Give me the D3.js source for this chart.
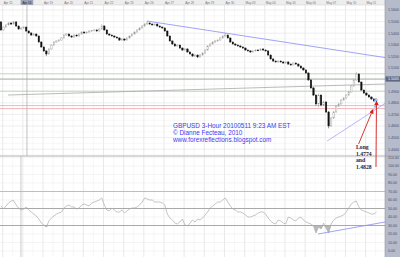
<!DOCTYPE html>
<html><head><meta charset="utf-8">
<script src="https://cdn.jsdelivr.net/npm/d3@7"></script>
<style>html,body{margin:0;padding:0;background:#fff;overflow:hidden}svg{display:block}</style>
</head><body><svg id="c" width="400" height="257"></svg>
<script>
// ---------------- data ----------------
const dates = ["Apr 15","Apr 16","Apr 19","Apr 20","Apr 21","Apr 22","Apr 23","Apr 26","Apr 27","Apr 28","Apr 29","Apr 30","May 03","May 04","May 05","May 06","May 07","May 10","May 11"];
const candlesPerDay = 8;      // 3-hour bars
const dayOffset = 0.67;       // first day boundary, in bars
const firstOpen = 1.5497;
const closes = [1.5428,1.5453,1.5471,1.5488,1.5479,1.5497,1.5462,1.5436,1.5445,1.5453,
 1.5419,1.5402,1.5384,1.5393,1.5376,1.5324,1.5281,1.5247,1.5221,1.5264,
 1.5298,1.5324,1.5333,1.5341,1.5359,1.5384,1.5393,1.5376,1.5367,1.5384,
 1.5376,1.5393,1.5410,1.5402,1.5410,1.5419,1.5421,1.5428,1.5419,1.5436,
 1.5462,1.5428,1.5393,1.5384,1.5376,1.5367,1.5359,1.5341,1.5350,1.5341,
 1.5359,1.5376,1.5393,1.5410,1.5428,1.5445,1.5462,1.5479,1.5488,1.5479,
 1.5471,1.5479,1.5462,1.5453,1.5445,1.5419,1.5376,1.5333,1.5307,1.5290,
 1.5298,1.5272,1.5255,1.5264,1.5238,1.5221,1.5203,1.5212,1.5195,1.5212,
 1.5229,1.5255,1.5290,1.5307,1.5324,1.5333,1.5341,1.5359,1.5376,1.5384,
 1.5359,1.5324,1.5307,1.5298,1.5290,1.5281,1.5272,1.5255,1.5247,1.5238,
 1.5247,1.5255,1.5252,1.5264,1.5255,1.5247,1.5212,1.5178,1.5160,1.5152,
 1.5160,1.5152,1.5143,1.5152,1.5134,1.5126,1.5143,1.5134,1.5117,1.5100,
 1.5083,1.5057,1.4997,1.4928,1.4867,1.4790,1.4867,1.4781,1.4807,1.4721,
 1.4600,1.4669,1.4721,1.4772,1.4790,1.4824,1.4841,1.4867,1.4893,1.4945,
 1.4997,1.5048,1.4979,1.4910,1.4884,1.4867,1.4850,1.4833,1.4816,1.4833];
const highs = [1.5505,1.5460,1.5478,1.5496,1.5493,1.5506,1.5502,1.5466,1.5452,1.5459,
 1.5457,1.5424,1.5407,1.5399,1.5397,1.5380,1.5330,1.5286,1.5252,1.5270,
 1.5305,1.5330,1.5340,1.5347,1.5366,1.5392,1.5400,1.5398,1.5381,1.5390,
 1.5389,1.5399,1.5417,1.5414,1.5416,1.5424,1.5427,1.5434,1.5432,1.5442,
 1.5478,1.5467,1.5432,1.5397,1.5388,1.5380,1.5371,1.5363,1.5356,1.5354,
 1.5364,1.5381,1.5398,1.5416,1.5433,1.5450,1.5468,1.5486,1.5505,1.5494,
 1.5484,1.5485,1.5483,1.5467,1.5458,1.5449,1.5423,1.5380,1.5338,1.5312,
 1.5304,1.5302,1.5277,1.5270,1.5268,1.5243,1.5226,1.5218,1.5216,1.5218,
 1.5235,1.5261,1.5296,1.5313,1.5330,1.5339,1.5347,1.5365,1.5382,1.5402,
 1.5389,1.5363,1.5329,1.5312,1.5303,1.5295,1.5286,1.5277,1.5260,1.5252,
 1.5253,1.5261,1.5262,1.5270,1.5269,1.5260,1.5251,1.5216,1.5183,1.5166,
 1.5166,1.5165,1.5157,1.5158,1.5156,1.5139,1.5149,1.5147,1.5139,1.5122,
 1.5105,1.5088,1.5062,1.5002,1.4935,1.4872,1.4880,1.4872,1.4818,1.4812,
 1.4728,1.4680,1.4730,1.4780,1.4800,1.4832,1.4850,1.4874,1.4900,1.4952,
 1.5005,1.5065,1.5054,1.4984,1.4915,1.4890,1.4872,1.4856,1.4838,1.4840];
const lows = [1.5420,1.5421,1.5448,1.5466,1.5472,1.5474,1.5455,1.5430,1.5431,1.5440,
 1.5413,1.5396,1.5378,1.5380,1.5370,1.5318,1.5275,1.5238,1.5203,1.5215,
 1.5258,1.5292,1.5318,1.5327,1.5336,1.5354,1.5378,1.5370,1.5360,1.5362,
 1.5370,1.5371,1.5388,1.5396,1.5398,1.5405,1.5414,1.5416,1.5413,1.5414,
 1.5431,1.5422,1.5387,1.5378,1.5370,1.5361,1.5352,1.5334,1.5336,1.5335,
 1.5337,1.5354,1.5371,1.5388,1.5405,1.5423,1.5440,1.5457,1.5474,1.5473,
 1.5465,1.5466,1.5457,1.5447,1.5439,1.5413,1.5370,1.5327,1.5300,1.5283,
 1.5285,1.5266,1.5249,1.5250,1.5232,1.5215,1.5197,1.5198,1.5186,1.5190,
 1.5207,1.5224,1.5250,1.5285,1.5302,1.5319,1.5328,1.5336,1.5354,1.5371,
 1.5353,1.5318,1.5301,1.5292,1.5284,1.5275,1.5266,1.5249,1.5241,1.5232,
 1.5233,1.5242,1.5246,1.5247,1.5249,1.5241,1.5206,1.5171,1.5154,1.5146,
 1.5147,1.5146,1.5137,1.5138,1.5128,1.5120,1.5121,1.5128,1.5111,1.5094,
 1.5077,1.5050,1.4990,1.4920,1.4858,1.4775,1.4760,1.4770,1.4772,1.4712,
 1.4580,1.4592,1.4660,1.4714,1.4765,1.4784,1.4818,1.4835,1.4860,1.4887,
 1.4938,1.4990,1.4972,1.4903,1.4877,1.4860,1.4843,1.4826,1.4808,1.4810];
const rsi = [52.9,49.4,52.9,56.5,58.8,59.4,54.1,50.6,48.2,49.4,
 51.8,48.2,45.9,43.5,41.2,37.6,32.9,30.6,28.2,35.3,
 38.8,41.2,43.5,44.7,45.9,50.6,52.9,54.1,51.8,51.8,
 49.4,50.6,54.1,55.3,54.1,52.9,56.5,57.6,58.8,60.0,
 62.4,54.1,48.2,47.1,50.6,48.2,45.9,45.9,48.2,44.7,
 47.1,49.4,50.6,50.6,51.8,54.1,57.6,62.4,61.2,60.0,
 60.0,57.6,57.6,57.6,56.5,54.1,43.5,38.8,36.5,32.9,
 31.8,34.1,37.6,30.6,29.4,32.9,36.5,34.1,37.6,36.5,
 38.8,42.4,45.9,50.6,52.9,55.3,57.6,57.6,60.0,62.4,
 57.6,52.9,49.4,48.2,45.9,45.9,44.7,42.4,40.0,40.0,
 41.2,42.4,44.7,45.9,45.9,43.5,38.8,35.3,32.9,31.8,
 36.5,35.3,32.9,31.8,40.0,38.8,36.5,35.3,38.8,40.0,
 36.5,34.1,32.9,31.8,29.4,21.2,28.2,25.9,32.9,27.1,
 21.2,31.8,36.5,38.8,40.0,41.2,42.4,45.9,50.6,55.3,
 57.6,58.8,51.8,48.2,47.1,45.9,44.7,43.5,43.5,45.9];
const priceTicks = [1.56,1.55,1.54,1.53,1.52,1.51,1.50,1.49,1.48,1.47,1.46,1.45,1.44];
const rsiTicks = [0,10,20,30,40,50,60,70,80,90,100,110];
const rsiLevels = [70,50,30];
const greenLevels = [1.5050,1.4900];
const redLevels = [1.4776,1.4750];
const crossIndex = 10.3, crossPrice = 1.5005, crossDate = "Apr 16";
const rsiCursorIndex = 7.9;
const greyTrend = [[2.8,1.4867],[152.4,1.4962]];
const upperTrend = [[57.9,1.5505],[152.4,1.5190]];
const lowerTrend = [[129.4,1.4470],[152.4,1.4795]];
const rsiTrend = [[125.8,20.0],[152.4,34.1]];
const entries = [1.4828,1.4774];
const arrows = [[[141.9,1.4445],[147.6,1.4742]],[[148.8,1.4247],[149.0,1.4815]]];
const titleLines = ["GBPUSD 3-Hour 20100511 9:23 AM EST","\u00a9 Dianne Fecteau, 2010","www.forexreflections.blogspot.com"];
const noteLines = ["Long","1.4774","and","1.4828"];

// ---------------- layout ----------------
const W=400,H=257,PR=385,MT=5,MB=156;
const svg = d3.select('#c');
const N = closes.length;
const x = d3.scaleLinear().domain([0,N-1]).range([1,376.5]);
const yP = d3.scaleLinear().domain([1.44,1.56]).range([149.2,10]);
const yR = d3.scaleLinear().domain([0,110]).range([251,157.5]);
const opens = closes.map((c,i)=> i===0 ? firstOpen : closes[i-1]);
const dayIdx = dates.map((d,k)=> dayOffset + candlesPerDay*k);

svg.append('rect').attr('width',W).attr('height',H).attr('fill','#fff');
const defs = svg.append('defs');
defs.append('clipPath').attr('id','cm').append('rect').attr('x',0).attr('y',MT).attr('width',PR).attr('height',MB-MT);
defs.append('clipPath').attr('id','cr').append('rect').attr('x',0).attr('y',MB).attr('width',PR).attr('height',H-MB);
defs.append('marker').attr('id','ah').attr('viewBox','0 0 10 10').attr('refX',9).attr('refY',5)
  .attr('markerWidth',5).attr('markerHeight',5).attr('orient','auto')
  .append('path').attr('d','M0,0 L10,5 L0,10 z').attr('fill','#d42020');

const gm = svg.append('g').attr('clip-path','url(#cm)');
const gr = svg.append('g').attr('clip-path','url(#cr)');

// minor grids
const minorX = d3.range(-1,dates.length+1).map(k=>dayOffset+candlesPerDay*k+candlesPerDay/2);
[gm,gr].forEach((g,j)=>{
  g.selectAll('.mx').data(minorX).join('line')
   .attr('x1',d=>x(d)).attr('x2',d=>x(d)).attr('y1',j?MB:MT).attr('y2',j?H:MB)
   .attr('stroke','#f1f1f1').attr('stroke-width',0.6);
  g.selectAll('.dx').data(dayIdx).join('line')
   .attr('x1',d=>x(d)).attr('x2',d=>x(d)).attr('y1',j?MB:MT).attr('y2',j?H:MB)
   .attr('stroke','#dadada').attr('stroke-width',0.6);
});
gm.selectAll('.hm').data(priceTicks.map(p=>p-0.005)).join('line')
  .attr('x1',0).attr('x2',PR).attr('y1',d=>yP(d)).attr('y2',d=>yP(d)).attr('stroke','#f2f2f2').attr('stroke-width',0.6);
gm.selectAll('.hp').data(priceTicks).join('line')
  .attr('x1',0).attr('x2',PR).attr('y1',d=>yP(d)).attr('y2',d=>yP(d)).attr('stroke','#e3e3e3').attr('stroke-width',0.6);
gr.selectAll('.hr').data(rsiTicks).join('line')
  .attr('x1',0).attr('x2',PR).attr('y1',d=>yR(d)).attr('y2',d=>yR(d)).attr('stroke','#ececec').attr('stroke-width',0.6);

// level lines
gm.selectAll('.gl').data(greenLevels).join('line')
  .attr('x1',0).attr('x2',PR).attr('y1',d=>yP(d)).attr('y2',d=>yP(d)).attr('stroke','#9fd49f').attr('stroke-width',0.7);
gm.selectAll('.rl').data(redLevels).join('line')
  .attr('x1',0).attr('x2',PR).attr('y1',d=>yP(d)).attr('y2',d=>yP(d)).attr('stroke','#ee9a9a').attr('stroke-width',0.7);
gm.append('line').attr('x1',0).attr('x2',PR).attr('y1',yP(crossPrice)).attr('y2',yP(crossPrice)).attr('stroke','#9a9a9a').attr('stroke-width',0.8);
gm.append('line').attr('x1',x(crossIndex)).attr('x2',x(crossIndex)).attr('y1',MT).attr('y2',MB).attr('stroke','#a8a8a8').attr('stroke-width',0.7);
gr.append('line').attr('x1',x(rsiCursorIndex)).attr('x2',x(rsiCursorIndex)).attr('y1',MB).attr('y2',H).attr('stroke','#b4b4b4').attr('stroke-width',0.7);

const segP = d3.line().x(d=>x(d[0])).y(d=>yP(d[1]));
const segR = d3.line().x(d=>x(d[0])).y(d=>yR(d[1]));
gm.append('path').attr('d',segP(greyTrend)).attr('fill','none').attr('stroke','#a8a8a8').attr('stroke-width',0.8);

// candles
const cg = gm.append('g');
const bw = 1.45;
cg.selectAll('.wk').data(closes).join('line')
  .attr('x1',(d,i)=>x(i)).attr('x2',(d,i)=>x(i))
  .attr('y1',(d,i)=>yP(highs[i])).attr('y2',(d,i)=>yP(lows[i]))
  .attr('stroke',(d,i)=> d>=opens[i] ? '#999' : '#222').attr('stroke-width',0.5);
cg.selectAll('.bd').data(closes).join('rect')
  .attr('x',(d,i)=>x(i)-bw/2).attr('width',bw)
  .attr('y',(d,i)=>yP(Math.max(d,opens[i])))
  .attr('height',(d,i)=>Math.max(0.8,Math.abs(yP(d)-yP(opens[i]))))
  .attr('fill',(d,i)=> d>=opens[i] ? '#fff' : '#111')
  .attr('stroke',(d,i)=> d>=opens[i] ? '#999' : '#111').attr('stroke-width',0.4);

// trendlines
gm.append('path').attr('d',segP(upperTrend)).attr('fill','none').attr('stroke','#8c8cf4').attr('stroke-width',0.8);
gm.append('path').attr('d',segP(lowerTrend)).attr('fill','none').attr('stroke','#9a9af4').attr('stroke-width',0.7);

// entry markers
gm.selectAll('.en').data(entries).join('path')
  .attr('d',d=>{const cx=x(148.6),cy=yP(d);return `M${cx-1.6},${cy+1.4} L${cx},${cy-1.4} L${cx+1.6},${cy+1.4} Z`;})
  .attr('fill','#8fc0ff').attr('stroke','#5f90e0').attr('stroke-width',0.3);

// RSI
gr.selectAll('.lv').data(rsiLevels).join('line')
  .attr('x1',0).attr('x2',PR).attr('y1',d=>yR(d)).attr('y2',d=>yR(d))
  .attr('stroke',d=>d===70?'#b8b8b8':'#a0a0a0').attr('stroke-width',0.9);
const area = d3.area().x((d,i)=>x(i)).y0(yR(30)).y1(d=>yR(Math.min(d,30)));
gr.append('path').attr('d',area(rsi)).attr('fill','#a8a8a8').attr('opacity',0.8);
gr.append('path').attr('d',d3.line().x((d,i)=>x(i)).y(d=>yR(d))(rsi))
  .attr('fill','none').attr('stroke','#acacac').attr('stroke-width',0.7);
gr.append('path').attr('d',segR(rsiTrend)).attr('fill','none').attr('stroke','#8c8cf4').attr('stroke-width',0.8);

// separator
svg.append('line').attr('x1',0).attr('x2',PR).attr('y1',MB).attr('y2',MB).attr('stroke','#b4b4b4').attr('stroke-width',1);

// top date strip
svg.append('rect').attr('x',0).attr('y',0).attr('width',W).attr('height',MT).attr('fill','#ededed');
svg.append('line').attr('x1',0).attr('x2',PR).attr('y1',MT).attr('y2',MT).attr('stroke','#cfcfcf').attr('stroke-width',0.5);
svg.selectAll('.dl').data(dates).join('text')
  .attr('x',(d,i)=>x(dayIdx[i])+1).attr('y',3.8).text(d=>d)
  .attr('font-family','Arial, Liberation Sans, sans-serif').attr('font-size',3).attr('fill','#777');
svg.append('rect').attr('x',x(crossIndex)-6.3).attr('y',0).attr('width',12.6).attr('height',MT).attr('fill','#9ba3b9');
svg.append('text').attr('x',x(crossIndex)).attr('y',3.8).attr('text-anchor','middle').text(crossDate)
  .attr('font-family','Arial, Liberation Sans, sans-serif').attr('font-size',3).attr('fill','#223');

// annotation text
const tb = svg.append('g').attr('font-family','Arial, Liberation Sans, sans-serif').attr('font-size',6.4).attr('fill','#3b3bf2');
tb.selectAll('text').data(titleLines).join('text').attr('x',173).attr('y',(d,i)=>128+i*7).text(d=>d);
const nb = svg.append('g').attr('font-family','Liberation Serif, DejaVu Serif, serif').attr('font-size',5.7).attr('font-weight','bold').attr('fill','#1d1d40');
nb.selectAll('text').data(noteLines).join('text').attr('x',356).attr('y',(d,i)=>149+i*6.6).text(d=>d);

// arrows
svg.selectAll('.ar').data(arrows).join('path').attr('d',d=>segP(d))
  .attr('fill','none').attr('stroke','#d42020').attr('stroke-width',0.9).attr('marker-end','url(#ah)');

// right axis
svg.append('rect').attr('x',PR).attr('y',0).attr('width',W-PR).attr('height',H).attr('fill','#b6bbcb');
svg.append('line').attr('x1',PR).attr('x2',PR).attr('y1',0).attr('y2',H).attr('stroke','#8d93a6').attr('stroke-width',0.6);
svg.append('line').attr('x1',PR).attr('x2',W).attr('y1',MB).attr('y2',MB).attr('stroke','#8d93a6').attr('stroke-width',0.6);
const ax = svg.append('g').attr('font-family','Arial, Liberation Sans, sans-serif').attr('font-size',3.6).attr('fill','#4b5064');
ax.selectAll('.pt').data(priceTicks.filter(p=>Math.abs(p-crossPrice)>0.003)).join('text')
  .attr('x',388).attr('y',d=>yP(d)+1.3).text(d=>d.toFixed(4));
ax.selectAll('.rt').data(rsiTicks).join('text')
  .attr('x',388).attr('y',d=>yR(d)+1.3).text(d=>d.toFixed(2));
svg.append('rect').attr('x',PR+0.5).attr('y',yP(crossPrice)-2.6).attr('width',W-PR).attr('height',5.2).attr('fill','#5f6782');
svg.append('text').attr('x',388).attr('y',yP(crossPrice)+1.3).text(crossPrice.toFixed(4))
  .attr('font-family','Arial, Liberation Sans, sans-serif').attr('font-size',3.6).attr('fill','#fff');
</script></body></html>
